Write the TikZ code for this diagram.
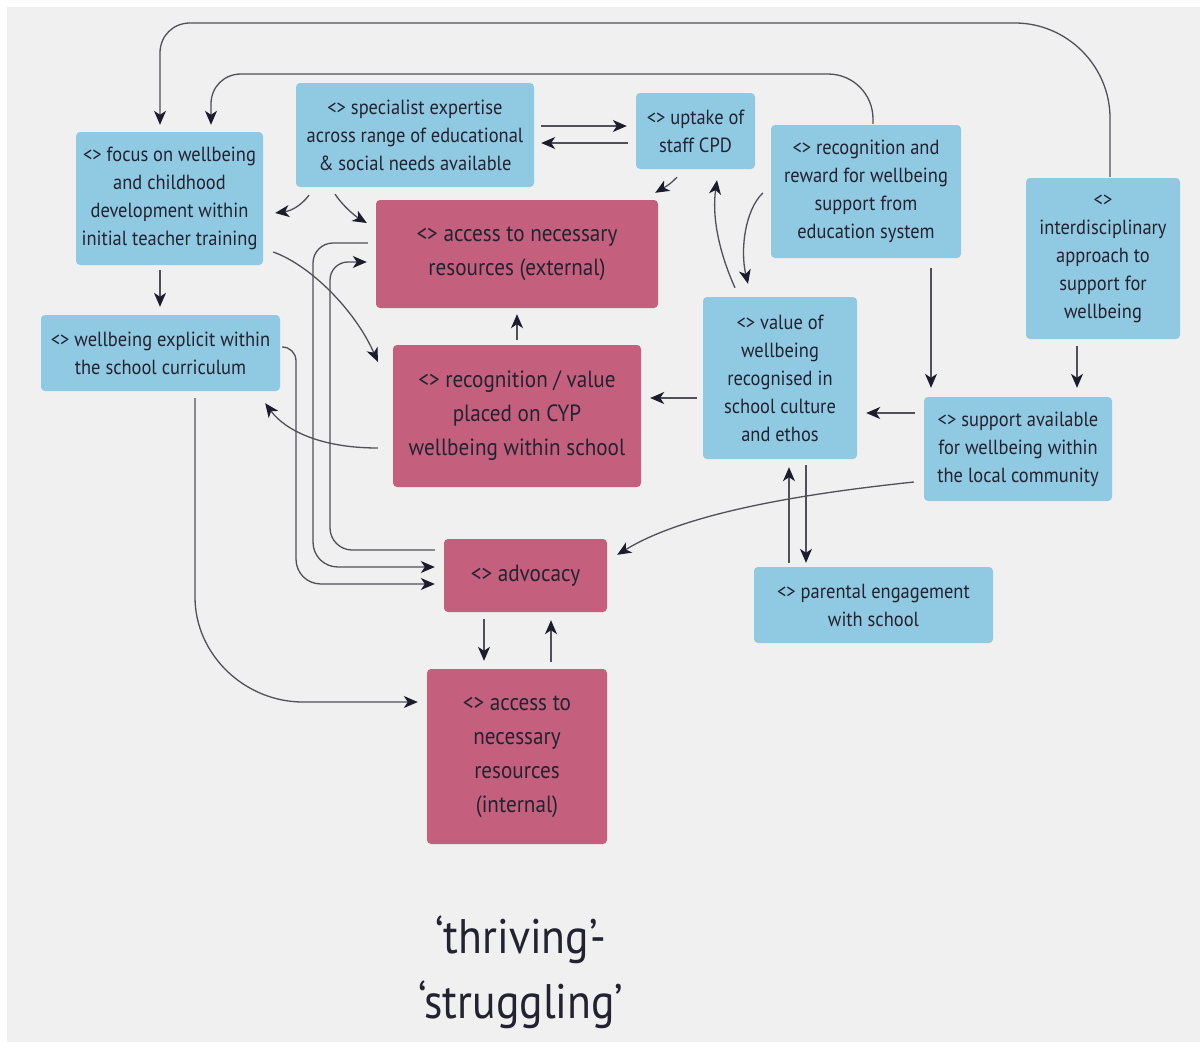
\documentclass[tikz,border=0pt]{standalone}
\usepackage{fontspec}
\setmainfont{PT Sans}[FakeStretch=0.9]
\usetikzlibrary{arrows.meta,calc}
\definecolor{bg}{HTML}{F0F0F0}
\definecolor{bluebox}{HTML}{90CAE2}
\definecolor{pinkbox}{HTML}{C4607D}
\definecolor{txt}{HTML}{222230}
\definecolor{linec}{HTML}{505058}
\definecolor{tipc}{HTML}{1C1C2C}
\tikzset{
 bbox/.style={fill=bluebox, rounded corners=4pt, inner sep=0pt, align=center, text=txt, font=\fontsize{20.5}{28}\selectfont},
 pbox/.style={fill=pinkbox, rounded corners=4pt, inner sep=0pt, align=center, text=txt, font=\fontsize{23.5}{34}\selectfont},
 wh/.style 2 args={minimum width=#1pt, minimum height=#2pt},
 conn/.style={draw=linec, line width=1.3pt, -{Stealth[length=14pt,width=12pt,inset=4pt,color=tipc]}},
}
\begin{document}
\begin{tikzpicture}[x=1pt,y=-1pt]
\useasboundingbox (0,0) rectangle (1200,1042);
\fill[bg] (7,7) rectangle (1200,1042);

% nodes
\node[bbox, wh={187}{133}] (focus) at (169.5,198.5) {<> focus on wellbeing\\and childhood\\development within\\initial teacher training};
\node[bbox, wh={238}{104}] (spec) at (415,135) {<> specialist expertise\\across range of educational\\\& social needs available};
\node[bbox, wh={119}{76}] (cpd) at (695.5,131) {<> uptake of\\staff CPD};
\node[bbox, wh={190}{133}] (reward) at (866,191.5) {<> recognition and\\reward for wellbeing\\support from\\education system};
\node[bbox, wh={154}{161}] (inter) at (1103,258.5) {<>\\interdisciplinary\\approach to\\support for\\wellbeing};
\node[pbox, wh={282}{108}] (extern) at (517,254) {<> access to necessary\\resources (external)};
\node[bbox, wh={239}{76}] (explicit) at (160.5,353) {<> wellbeing explicit within\\the school curriculum};
\node[pbox, wh={248}{142}] (recog) at (517,416) {<> recognition / value\\placed on CYP\\wellbeing within school};
\node[bbox, wh={154}{162}] (value) at (780,378) {<> value of\\wellbeing\\recognised in\\school culture\\and ethos};
\node[bbox, wh={188}{104}] (support) at (1018,449) {<> support available\\for wellbeing within\\the local community};
\node[pbox, wh={163}{73}] (advocacy) at (525.5,575.5) {<> advocacy};
\node[bbox, wh={239}{76}] (parental) at (873.5,605) {<> parental engagement\\with school};
\node[pbox, wh={180}{175}] (internal) at (517,756.5) {<> access to\\necessary\\resources\\(internal)};
\node[text=txt, align=center, font=\fontsize{48.5}{65}\selectfont] (title) at (521,972) {‘thriving’-\\‘struggling’};

% connectors
\draw[conn] ($(inter.north)+(7,-1)$) -- (1110,118) .. controls (1110,66) and (1067,23) .. (1015,23) -- (190,23) .. controls (173,23) and (160,36) .. (160,53) -- ($(focus.north)+(-9.5,-7)$);
\draw[conn] ($(reward.north)+(7,-1)$) -- (873,119) .. controls (873,94) and (853,74) .. (828,74) -- (241,74) .. controls (224,74) and (211,87) .. (211,104) -- ($(focus.north)+(41.5,-7)$);
\draw[conn] ($(spec.east)+(7,-9)$) -- ($(cpd.west)+(-9,-5)$);
\draw[conn] ($(cpd.west)+(-8,12)$) -- ($(spec.east)+(7,8)$);
\draw[conn] ($(spec.south)+(-106,8)$) .. controls (300,207) and (290,211) .. ($(focus.east)+(12,14.5)$);
\draw[conn] ($(spec.south)+(-80,7)$) .. controls (343,206) and (355,216) .. ($(extern.west)+(-9,-31)$);
\draw[conn] ($(cpd.south)+(-18.5,8)$) .. controls (670,184) .. ($(extern.north east)+(-3,-7)$);
\draw[conn] ($(value.north)+(-45,-9)$) .. controls (718,250) and (712,215) .. ($(cpd.south)+(21.5,11)$);
\draw[conn] ($(reward.west)+(-8,1.5)$) .. controls (745,210) and (740,250) .. ($(value.north)+(-32,-13)$);
\draw[conn] ($(reward.south)+(65,10)$) -- ($(support.north)+(-87,-9)$);
\draw[conn] ($(inter.south)+(-26,7)$) -- ($(support.north)+(59,-9)$);
\draw[conn] ($(support.west)+(-9,-36)$) -- ($(value.east)+(9,35)$);
\draw[conn] ($(value.west)+(-6,20)$) -- ($(recog.east)+(9,-18)$);
\draw[conn] ($(recog.north)+(0,-5)$) -- ($(extern.south)+(0,6)$);
\draw[conn] ($(recog.west)+(-15,32)$) .. controls (320,448) and (285,430) .. ($(explicit.south east)+(-15,12)$);
\draw[conn] ($(focus.east)+(10,53.5)$) .. controls (310,265) and (355,310) .. ($(recog.north west)+(-15,17)$);
\draw[conn] ($(focus.south)+(-9.5,5)$) -- ($(explicit.north)+(-0.5,-8)$);
\draw[conn] ($(explicit.south)+(34.5,7)$) -- (195,597) .. controls (195,655) and (245,702) .. (303,702) -- ($(internal.west)+(-9,-54.5)$);
\draw[conn] ($(explicit.east)+(2,-6)$) .. controls (290,347) and (296,353) .. (296,361) -- (296,559) .. controls (296,573) and (307,584) .. (321,584) -- ($(advocacy.west)+(-9,8.5)$);
\draw[conn] ($(extern.west)+(-8,-11)$) -- (333,243) .. controls (322,243) and (313,252) .. (313,263) -- (313,542) .. controls (313,556) and (324,567) .. (338,567) -- ($(advocacy.west)+(-9,-8.5)$);
\draw[conn] ($(advocacy.west)+(-9,-25.5)$) -- (352,550) .. controls (340,550) and (330,540) .. (330,528) -- (330,280) .. controls (330,270) and (338,262) .. (348,262) -- ($(extern.west)+(-9,8)$);
\draw[conn] ($(support.west)+(-10,33)$) .. controls (820,492) and (690,510) .. ($(advocacy.north east)+(10,16)$);
\draw[conn] ($(value.south)+(26,6)$) -- ($(parental.north)+(-67.5,-4)$);
\draw[conn] ($(parental.north)+(-84.5,-4)$) -- ($(value.south)+(9,8)$);
\draw[conn] ($(advocacy.south)+(-41.5,7)$) -- ($(internal.north)+(-33,-8)$);
\draw[conn] ($(internal.north)+(34,-7)$) -- ($(advocacy.south)+(25.5,8)$);
\end{tikzpicture}
\end{document}
